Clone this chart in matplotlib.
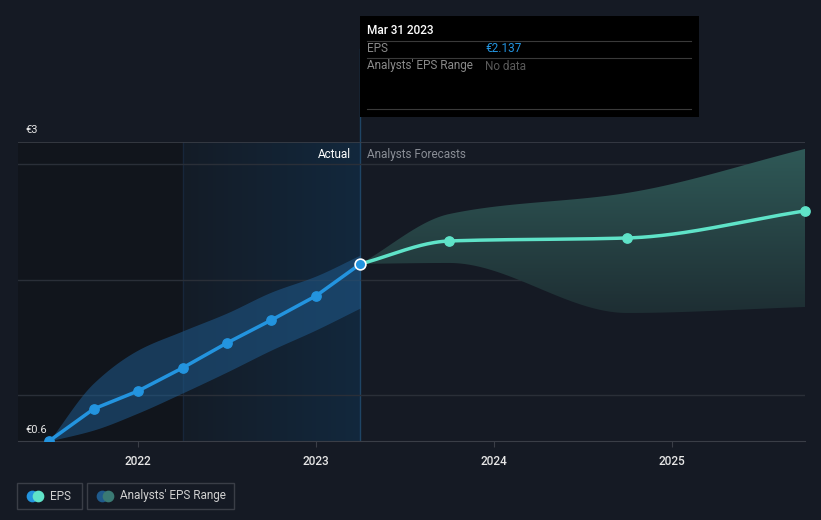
import matplotlib
matplotlib.use("Agg")
import matplotlib.pyplot as plt
import numpy as np
from matplotlib.colors import LinearSegmentedColormap

plt.rcParams['font.family'] = ['Roboto', 'DejaVu Sans']

# actual EPS (quarter ends, decimal years)
act_x = [2021.5, 2021.75, 2022.0, 2022.25, 2022.5, 2022.75, 2023.0, 2023.25]
act_eps = [0.60, 0.878, 1.034, 1.234, 1.451, 1.650, 1.859, 2.137]
act_low = [0.60, 0.695, 0.843, 1.017, 1.199, 1.390, 1.564, 1.755]
act_high = [0.60, 1.103, 1.390, 1.555, 1.711, 1.893, 2.032, 2.215]

# analyst forecasts
fc_x = [2023.25, 2023.75, 2024.75, 2025.75]
fc_eps = [2.137, 2.336, 2.362, 2.597]
fc_low = [2.137, 2.145, 1.711, 1.763]
fc_high = [2.137, 2.570, 2.753, 3.135]

year_ticks = [2022, 2023, 2024, 2025]
grid_vals = [1, 2, 3]

BG = '#151a24'
BLUE = '#2394df'
MINT = '#5fe3c8'


def monotone(xs, ys, n=200):
    # monotone cubic curve for drawing, like the d3 curve used on the site
    xs = np.asarray(xs, float)
    ys = np.asarray(ys, float)
    h = np.diff(xs)
    d = np.diff(ys) / h
    m = np.zeros(len(xs))
    m[0], m[-1] = d[0], d[-1]
    for i in range(1, len(xs) - 1):
        if d[i - 1] * d[i] <= 0:
            m[i] = 0
        else:
            m[i] = 3 * (h[i - 1] + h[i]) / ((2 * h[i] + h[i - 1]) / d[i - 1] + (h[i] + 2 * h[i - 1]) / d[i])
    xx = np.linspace(xs[0], xs[-1], n)
    yy = np.empty_like(xx)
    for j, x in enumerate(xx):
        i = min(np.searchsorted(xs, x, side='right') - 1, len(xs) - 2)
        t = (x - xs[i]) / h[i]
        h00 = 2 * t**3 - 3 * t**2 + 1
        h10 = t**3 - 2 * t**2 + t
        h01 = -2 * t**3 + 3 * t**2
        h11 = t**3 - t**2
        yy[j] = h00 * ys[i] + h10 * h[i] * m[i] + h01 * ys[i + 1] + h11 * h[i] * m[i + 1]
    return xx, yy


fig = plt.figure(figsize=(8.21, 5.2), dpi=100, facecolor=BG)
ax = fig.add_axes([18 / 821, (520 - 441) / 520, (805 - 18) / 821, (441 - 142) / 520])
ax.set_facecolor(BG)
x0, x1 = 2021.325, 2025.75
y0, y1 = 0.6, 3.195
ax.set_xlim(x0, x1)
ax.set_ylim(y0, y1)

# past region shading
ax.axvspan(x0, 2022.25, color='#11151c', zorder=0)
grad = np.linspace(0, 1, 256).reshape(1, -1)
cm_past = LinearSegmentedColormap.from_list('past', ['#141c27', '#12283d'])
ax.imshow(grad, extent=[2022.25, 2023.25, y0, y1], aspect='auto', cmap=cm_past, zorder=0.5)
ax.axvline(2022.25, color='#17263a', lw=1, zorder=0.6)
ax.axvline(2023.25, color='#1f4565', lw=1, zorder=0.6)
ax.plot([2023.25, 2023.25], [y1, 4.0], color='#1f4565', lw=1, clip_on=False, zorder=0.6)

for g in grid_vals:
    ax.axhline(g, color='#2a2f38', lw=1, zorder=1)
ax.axhline(y1, color='#3a3e47', lw=1.2, zorder=1)

# actual range band
bx, blo = monotone(act_x, act_low)
_, bhi = monotone(act_x, act_high)
ax.fill_between(bx, blo, bhi, color='#1f5a8c', alpha=0.55, lw=0, zorder=2)

# forecast range band with vertical gradient
fx, flo = monotone(fc_x, fc_low)
_, fhi = monotone(fc_x, fc_high)
poly = ax.fill_between(fx, flo, fhi, color='none', lw=0, zorder=2)
cm_fc = LinearSegmentedColormap.from_list('fc', ['#1e2e33', '#2f5957'])
img = ax.imshow(np.linspace(0, 1, 256).reshape(-1, 1), extent=[2023.25, x1, 1.7, 3.14],
                origin='lower', aspect='auto', cmap=cm_fc, zorder=2)
img.set_clip_path(poly.get_paths()[0], transform=ax.transData)

# EPS lines
ax.plot(act_x, act_eps, color=BLUE, lw=2.5, zorder=4, solid_capstyle='round')
ax.scatter(act_x[:-1], act_eps[:-1], s=45, color=BLUE, zorder=5)
ex, ey = monotone(fc_x, fc_eps)
ax.plot(ex, ey, color=MINT, lw=2.5, zorder=4)
ax.scatter(fc_x[1:], fc_eps[1:], s=45, color=MINT, zorder=5, clip_on=False)
ax.scatter([act_x[-1]], [act_eps[-1]], s=60, color=BLUE, edgecolors='white', linewidths=1.2, zorder=6)

# axes
for s in ['top', 'left', 'right']:
    ax.spines[s].set_visible(False)
ax.spines['bottom'].set_color('#3a3e47')
ax.set_yticks([])
ax.set_xticks(year_ticks)
ax.set_xticklabels([str(y) for y in year_ticks], color='#e6e6e6', fontsize=8.5, fontweight='medium')
ax.tick_params(axis='x', length=4, color='#3a3e47', pad=6)

fig.text(25 / 821, 1 - 130 / 520, '€3', color='#e6e6e6', fontsize=8, va='center')
fig.text(25 / 821, 1 - 430 / 520, '€0.6', color='#e6e6e6', fontsize=8, va='center')

fig.text(351 / 821, 1 - 154 / 520, 'Actual', color='#ffffff', fontsize=8.5, ha='right', va='center')
fig.text(367 / 821, 1 - 154 / 520, 'Analysts Forecasts', color='#8a8e96', fontsize=8.5, va='center')

# tooltip box
tip = fig.add_axes([360 / 821, 1 - 117 / 520, 339 / 821, 101 / 520])
tip.set_facecolor('#000000')
tip.set_xlim(360, 699)
tip.set_ylim(117, 16)
tip.axis('off')
tip.add_patch(plt.Rectangle((360, 16), 339, 101, color='black', zorder=0))
tip.text(367, 31, 'Mar 31 2023', color='white', fontsize=8.5, va='center', fontweight='medium')
for yy in [41, 58, 109]:
    tip.plot([367, 691], [yy, yy], color='#3a3a3a', lw=0.8)
tip.text(367, 49, 'EPS', color='#8a8a8a', fontsize=8.5, va='center')
tip.text(485, 49, '€2.137', color=BLUE, fontsize=8.5, va='center')
tip.text(367, 66, "Analysts' EPS Range", color='#8a8a8a', fontsize=8.5, va='center')
tip.text(485, 66, 'No data', color='#5a5a5a', fontsize=8.5, va='center')

# legend
leg = fig.add_axes([0, 0, 1, 1], facecolor='none')
leg.set_xlim(0, 821)
leg.set_ylim(520, 0)
leg.axis('off')
leg.add_patch(plt.Rectangle((16.5, 483), 65, 26, fill=False, ec='#3a3e47', lw=1))
leg.add_patch(plt.Rectangle((86.5, 483), 147, 26, fill=False, ec='#3a3e47', lw=1))
leg.scatter([32], [496], s=55, color=BLUE)
leg.scatter([38], [496], s=55, color=MINT)
leg.text(50, 496, 'EPS', color='#d0d0d0', fontsize=8.5, va='center')
leg.scatter([102], [496], s=55, color='#1f5a8c')
leg.scatter([108], [496], s=55, color='#3a7a74')
leg.text(120, 496, "Analysts' EPS Range", color='#d0d0d0', fontsize=8.5, va='center')

fig.savefig('out.png', dpi=100, facecolor=BG)
